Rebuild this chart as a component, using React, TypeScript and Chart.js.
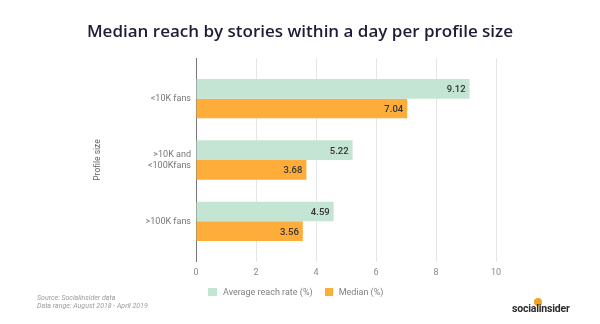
import React, { useEffect, useRef } from "react";
import { Chart, registerables } from "chart.js";

Chart.register(...registerables);

const categories: (string | string[])[] = ["<10K fans", [">10K and", "<100Kfans"], ">100K fans"];
const averageReach = [9.12, 5.22, 4.59];
const medianReach = [7.04, 3.68, 3.56];
const xTicks = [0, 2, 4, 6, 8, 10];
const seriesNames = ["Average reach rate (%)", "Median (%)"];
const colors = ["#c4e5d4", "#ffad3a"];

const gridExtend = {
  id: "gridExtend",
  beforeDatasetsDraw(chart: any) {
    const { ctx, chartArea, scales } = chart;
    ctx.save();
    ctx.lineWidth = 1;
    xTicks.forEach((t) => {
      const x = Math.round(scales.x.getPixelForValue(t)) + 0.5;
      ctx.strokeStyle = t === 0 ? "#777777" : "#e6e6e6";
      ctx.beginPath();
      ctx.moveTo(x, chartArea.top - 10);
      ctx.lineTo(x, chartArea.top);
      ctx.stroke();
    });
    ctx.restore();
  },
};

const valueLabels = {
  id: "valueLabels",
  afterDatasetsDraw(chart: any) {
    const { ctx } = chart;
    ctx.save();
    ctx.font = "500 9.5px Roboto";
    ctx.fillStyle = "#333333";
    ctx.textAlign = "right";
    ctx.textBaseline = "middle";
    chart.data.datasets.forEach((ds: any, i: number) => {
      const meta = chart.getDatasetMeta(i);
      meta.data.forEach((bar: any, j: number) => {
        ctx.fillText(Number(ds.data[j]).toFixed(2), bar.x - 4, bar.y + 1);
      });
    });
    ctx.restore();
  },
};

export default function App() {
  const ref = useRef<HTMLCanvasElement>(null);
  useEffect(() => {
    if (!ref.current) return;
    const chart = new Chart(ref.current, {
      type: "bar",
      data: {
        labels: categories,
        datasets: [
          { label: seriesNames[0], data: averageReach, backgroundColor: colors[0], borderWidth: 0 },
          { label: seriesNames[1], data: medianReach, backgroundColor: colors[1], borderWidth: 0 },
        ],
      },
      options: {
        indexAxis: "y",
        animation: false,
        responsive: false,
        devicePixelRatio: 1,
        layout: { padding: { left: 0, right: 104, top: 68, bottom: 42 } },
        datasets: { bar: { categoryPercentage: 0.64, barPercentage: 1.0 } },
        plugins: { legend: { display: false }, tooltip: { enabled: false }, title: { display: false } },
        scales: {
          x: {
            min: 0,
            max: 10,
            afterFit: (s: any) => { s.height = 30; },
            afterBuildTicks: (s: any) => { s.ticks = xTicks.map((v) => ({ value: v })); },
            grid: {
              color: (c: any) => (c.tick && c.tick.value === 0 ? "#777777" : "#e6e6e6"),
              tickLength: 10,
              lineWidth: 1,
            },
            border: { display: false },
            ticks: { color: "#8a8a8a", font: { family: "Roboto", size: 9 }, padding: 5 },
          },
          y: {
            afterFit: (s: any) => { s.width = 196; },
            grid: { display: false, drawTicks: false },
            border: { display: false },
            ticks: { color: "#777777", font: { family: "Roboto", size: 9 }, padding: 5 },
            title: {
              display: true,
              text: "Profile size",
              color: "#666666",
              font: { family: "Roboto", size: 8.5 },
              padding: { top: 93, bottom: 0 },
            },
          },
        },
      },
      plugins: [gridExtend, valueLabels],
    });
    return () => chart.destroy();
  }, []);

  return (
    <div style={{ position: "absolute", left: 0, top: 0, width: 600, height: 324, background: "#fff", overflow: "hidden" }}>
      <canvas ref={ref} width={600} height={324} style={{ position: "absolute", left: 0, top: 0 }} />
      <div style={{ position: "absolute", left: 0, width: 600, top: 19, textAlign: "center", fontFamily: "'Open Sans'", fontWeight: 600, fontSize: 17, color: "#1e1d36" }}>
        Median reach by stories within a day per profile size
      </div>
      <div style={{ position: "absolute", top: 286, left: 208, display: "flex", alignItems: "center", fontFamily: "Roboto", fontSize: 9, lineHeight: "12px", color: "#808080" }}>
        <span style={{ width: 9, height: 8, background: colors[0], display: "inline-block", marginRight: 6 }} />
        <span>{seriesNames[0]}</span>
        <span style={{ width: 8, height: 8, background: colors[1], display: "inline-block", marginLeft: 12, marginRight: 6 }} />
        <span>{seriesNames[1]}</span>
      </div>
      <div style={{ position: "absolute", left: 37, top: 294, fontFamily: "Roboto", fontStyle: "italic", fontSize: 7, lineHeight: "8px", color: "#9a9a9a" }}>
        <div>Source: Socialinsider data</div>
        <div>Data range: August 2018 - April 2019</div>
      </div>
      <div style={{ position: "absolute", left: 534, top: 298, width: 8, height: 8, borderRadius: 4, background: "#f7a21b" }} />
      <div style={{ position: "absolute", left: 512, top: 302, fontFamily: "Roboto", fontWeight: 700, fontSize: 10.5, color: "#2b2b2b", letterSpacing: -0.2 }}>
        socialinsider
      </div>
    </div>
  );
}
